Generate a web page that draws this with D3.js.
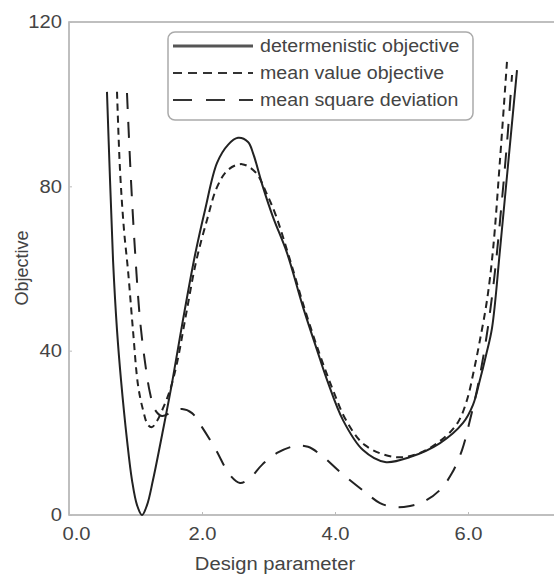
<!DOCTYPE html>
<html>
<head>
<meta charset="utf-8">
<script src="https://cdn.jsdelivr.net/npm/d3@7"></script>
<style>
  body { margin: 0; background: #fff; }
  text { font-family: "Liberation Sans", Arial, sans-serif; fill: #444; }
</style>
</head>
<body>
<div class="container"></div>
<script>
// values
const detX = [0.571, 0.617, 0.662, 0.722, 0.782, 0.872, 0.947, 1.023, 1.098, 1.173, 1.263, 1.414, 1.549, 1.714, 1.895, 2.045, 2.226, 2.391, 2.541, 2.692, 2.767, 2.917, 3.068, 3.278, 3.519, 3.729, 3.880, 4.120, 4.421, 4.752, 5.128, 5.579, 5.925, 6.075, 6.180, 6.271, 6.361, 6.481, 6.602, 6.737];
const detY = [103.0, 81.5, 62.1, 45.0, 32.9, 18.3, 8.5, 2.4, 0.0, 2.4, 8.5, 20.7, 32.1, 47.5, 63.3, 74.2, 85.7, 90.1, 91.8, 90.8, 88.1, 79.8, 72.5, 63.8, 50.6, 40.2, 32.9, 23.1, 15.8, 12.9, 14.1, 17.5, 22.4, 26.8, 32.9, 38.9, 45.5, 64.5, 85.2, 108.3];

const meanX = [0.722, 0.767, 0.827, 0.887, 0.962, 1.038, 1.113, 1.188, 1.248, 1.323, 1.414, 1.519, 1.624, 1.759, 1.910, 2.075, 2.226, 2.391, 2.602, 2.812, 2.962, 3.113, 3.323, 3.549, 3.774, 3.970, 4.165, 4.451, 4.902, 5.278, 5.654, 5.850, 5.985, 6.090, 6.180, 6.286, 6.376, 6.481, 6.586];
const meanY = [103.0, 84.0, 69.4, 59.6, 45.0, 31.6, 25.6, 21.9, 21.4, 22.9, 26.0, 30.4, 37.0, 48.7, 61.6, 71.8, 79.8, 84.0, 85.4, 83.3, 78.6, 72.8, 62.1, 49.9, 38.9, 30.4, 23.1, 17.0, 14.1, 15.1, 19.0, 22.6, 28.0, 35.3, 42.6, 52.3, 64.5, 86.4, 110.3];

const msdX = [0.872, 0.932, 0.992, 1.068, 1.143, 1.218, 1.293, 1.398, 1.549, 1.699, 1.850, 2.000, 2.211, 2.421, 2.571, 2.722, 2.902, 3.128, 3.398, 3.594, 3.805, 4.075, 4.451, 4.677, 4.902, 5.128, 5.353, 5.579, 5.759, 5.910, 6.030, 6.150, 6.271, 6.391, 6.511, 6.602, 6.662];
const msdY = [102.7, 81.5, 64.5, 47.5, 37.2, 29.7, 25.6, 24.1, 25.1, 25.8, 24.8, 21.4, 15.8, 9.7, 7.8, 9.0, 12.2, 15.1, 16.8, 16.6, 14.4, 10.5, 5.6, 2.9, 1.9, 2.2, 3.4, 6.1, 10.2, 15.8, 23.1, 31.6, 42.6, 57.2, 76.7, 93.7, 107.1];

const seriesNames = ['determenistic objective', 'mean value objective', 'mean square deviation'];
const xTicks = [0, 2, 4, 6];
const yTicks = [0, 40, 80, 120];

const width = 554;
const height = 576;
const plotLeft = 69;
const plotTop = 22;
const plotBottom = 515;
const stretch = 1.12;

const x = d3.scaleLinear().domain([0, 7]).range([plotLeft, plotLeft + 7 * 66.5]);
const y = d3.scaleLinear().domain([0, 120]).range([plotBottom, plotTop]);

const svg = d3.select('.container')
  .append('svg')
  .attr('width', width)
  .attr('height', height);

// frame
svg.append('rect')
  .attr('x', plotLeft)
  .attr('y', plotTop)
  .attr('width', 520)
  .attr('height', plotBottom - plotTop)
  .attr('fill', 'none')
  .attr('stroke', '#aaa')
  .attr('stroke-width', 1.5);

const widen = (sel) => sel.each(function () {
  const w = this.getComputedTextLength();
  d3.select(this).attr('textLength', w * stretch).attr('lengthAdjust', 'spacingAndGlyphs');
});

const xAxis = svg.append('g')
  .attr('transform', `translate(0, ${plotBottom})`)
  .call(d3.axisBottom(x).tickValues(xTicks).tickFormat(d3.format('.1f')).tickSize(3).tickPadding(8));
xAxis.select('.domain').remove();
xAxis.selectAll('.tick line').attr('stroke', '#bbb').attr('y2', -3);
xAxis.selectAll('.tick text')
  .attr('font-size', 18)
  .attr('fill', '#444')
  .attr('dx', (d) => (d === 0 ? 7 : 0))
  .attr('y', 12)
  .attr('dy', '0.71em');

const yAxis = svg.append('g')
  .attr('transform', `translate(${plotLeft}, 0)`)
  .call(d3.axisLeft(y).tickValues(yTicks).tickSize(3).tickPadding(4));
yAxis.select('.domain').remove();
yAxis.selectAll('.tick line').attr('stroke', '#bbb').attr('x2', 3);
yAxis.selectAll('.tick text')
  .attr('font-size', 18)
  .attr('fill', '#444');

svg.selectAll('.tick text').call(widen);

// curves
const line = d3.line()
  .x((d) => x(d[0]))
  .y((d) => y(d[1]))
  .curve(d3.curveCatmullRom.alpha(0.5));

const series = [
  { name: seriesNames[0], pts: d3.zip(detX, detY), dash: null },
  { name: seriesNames[1], pts: d3.zip(meanX, meanY), dash: '7,5' },
  { name: seriesNames[2], pts: d3.zip(msdX, msdY), dash: '16,13' },
];

svg.append('g')
  .selectAll('path')
  .data(series)
  .enter()
  .append('path')
  .attr('d', (d) => line(d.pts))
  .attr('fill', 'none')
  .attr('stroke', '#222')
  .attr('stroke-width', 2)
  .attr('stroke-dasharray', (d) => d.dash);

// legend
const legend = svg.append('g');
legend.append('rect')
  .attr('x', 168)
  .attr('y', 32)
  .attr('width', 305)
  .attr('height', 88)
  .attr('rx', 7)
  .attr('fill', '#fff')
  .attr('stroke', '#aaa')
  .attr('stroke-width', 1.5);

const rows = legend.selectAll('g')
  .data(series)
  .enter()
  .append('g')
  .attr('transform', (d, i) => `translate(0, ${46 + i * 27})`);

rows.append('line')
  .attr('x1', 173)
  .attr('x2', 253)
  .attr('stroke', (d, i) => (i === 0 ? '#555' : '#333'))
  .attr('stroke-width', (d, i) => (i === 0 ? 3 : 2))
  .attr('stroke-dasharray', (d, i) => ['none', '9,6', '19,14'][i]);

rows.append('text')
  .attr('x', 260)
  .attr('dy', '0.35em')
  .attr('font-size', 17.5)
  .text((d) => d.name)
  .call(widen);

// axis titles
svg.append('text')
  .attr('x', 275)
  .attr('y', 570)
  .attr('text-anchor', 'middle')
  .attr('font-size', 18)
  .text('Design parameter')
  .call(widen);

svg.append('text')
  .attr('transform', 'translate(28, 268) rotate(-90)')
  .attr('text-anchor', 'middle')
  .attr('font-size', 18)
  .text('Objective');
</script>
</body>
</html>
